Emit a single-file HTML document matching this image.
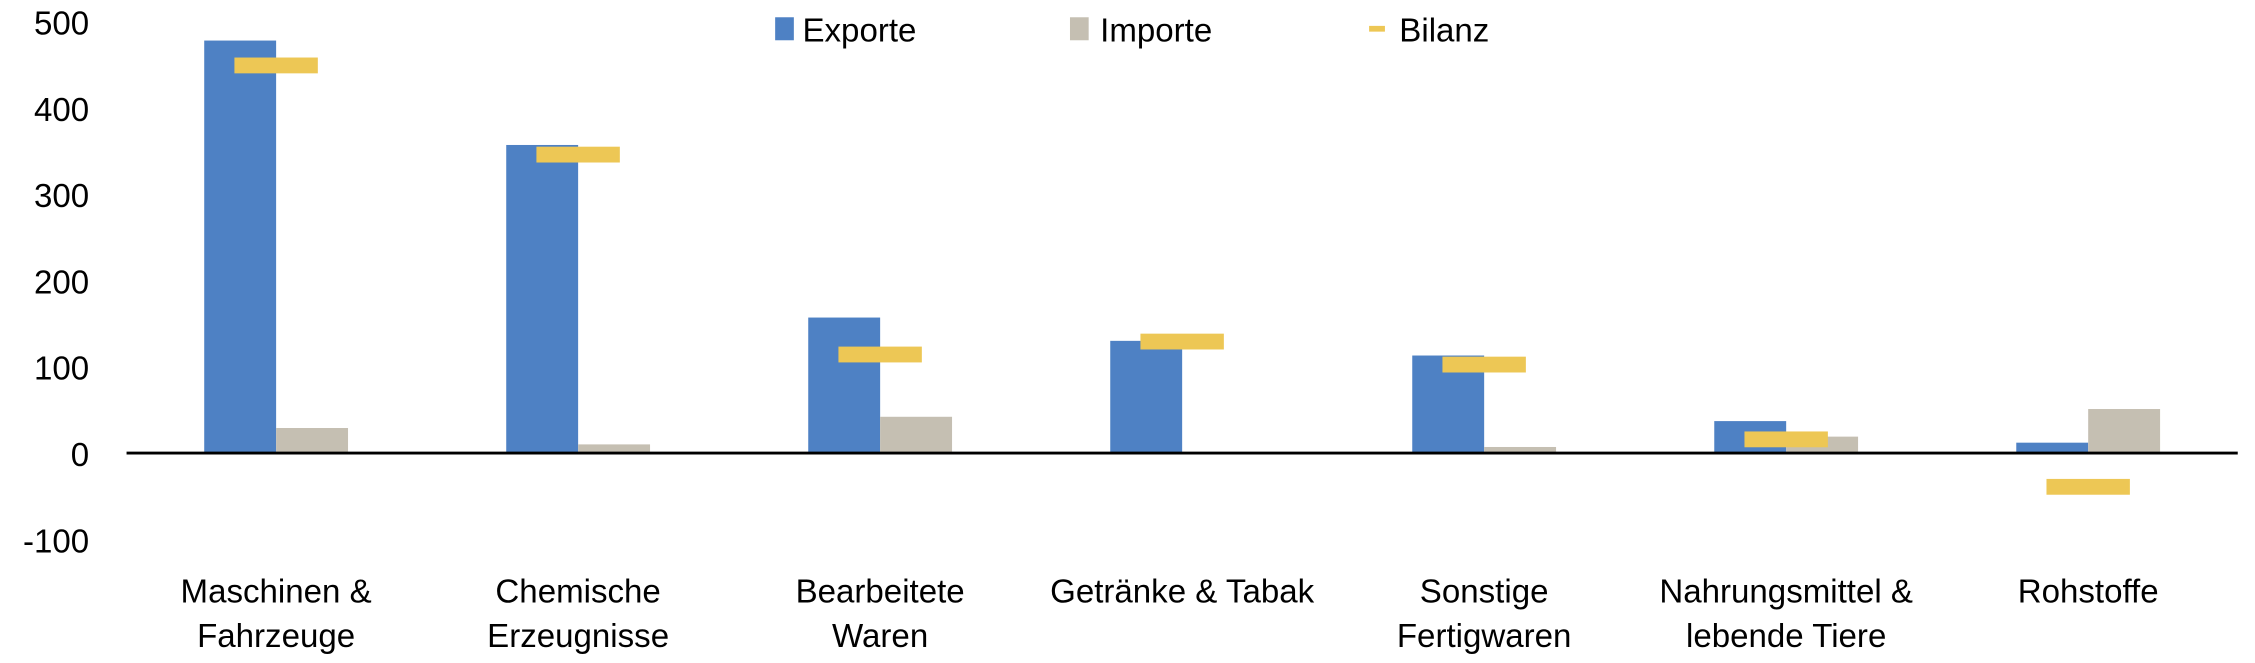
<!DOCTYPE html>
<html><head><meta charset="utf-8"><style>html,body{margin:0;padding:0;background:#fff;overflow:hidden}svg{display:block}</style></head>
<body>
<svg width="2255" height="663" viewBox="0 0 1568 461" preserveAspectRatio="none" xmlns="http://www.w3.org/2000/svg" font-family="Liberation Sans, DejaVu Sans, sans-serif" fill="#000">
<g font-size="23" text-anchor="end">
<text x="62" y="24">500</text>
<text x="62" y="84">400</text>
<text x="62" y="144">300</text>
<text x="62" y="204">200</text>
<text x="62" y="264">100</text>
<text x="62" y="324">0</text>
<text x="62" y="384">-100</text>
</g>
<g fill="#4e81c4">
<rect x="142" y="28.2" width="50" height="286.8"/>
<rect x="352" y="100.8" width="50" height="214.2"/>
<rect x="562" y="220.8" width="50" height="94.2"/>
<rect x="772" y="237" width="50" height="78"/>
<rect x="982" y="247.2" width="50" height="67.8"/>
<rect x="1192" y="292.8" width="50" height="22.2"/>
<rect x="1402" y="307.8" width="50" height="7.2"/>
</g>
<g fill="#c5bfb2">
<rect x="192" y="297.6" width="50" height="17.4"/>
<rect x="402" y="309" width="50" height="6"/>
<rect x="612" y="289.8" width="50" height="25.2"/>
<rect x="1032" y="310.8" width="50" height="4.2"/>
<rect x="1242" y="303.6" width="50" height="11.4"/>
<rect x="1452" y="284.4" width="50" height="30.6"/>
</g>
<line x1="88" y1="315" x2="1556" y2="315" stroke="#000" stroke-width="2"/>
<g fill="#edc755">
<rect x="163" y="40" width="58" height="11"/>
<rect x="373" y="102" width="58" height="11"/>
<rect x="583" y="241" width="58" height="11"/>
<rect x="793" y="232" width="58" height="11"/>
<rect x="1003" y="248" width="58" height="11"/>
<rect x="1213" y="300" width="58" height="11"/>
<rect x="1423" y="333" width="58" height="11"/>
</g>
<rect x="539" y="12" width="13" height="16" fill="#4e81c4"/>
<text x="558" y="29" font-size="23">Exporte</text>
<rect x="744" y="12" width="13" height="16" fill="#c5bfb2"/>
<text x="765" y="29" font-size="23">Importe</text>
<rect x="952" y="18" width="11" height="4" fill="#edc755"/>
<text x="973" y="29" font-size="23">Bilanz</text>
<g font-size="23" text-anchor="middle">
<text x="192" y="419">Maschinen &amp;</text><text x="192" y="450">Fahrzeuge</text>
<text x="402" y="419">Chemische</text><text x="402" y="450">Erzeugnisse</text>
<text x="612" y="419">Bearbeitete</text><text x="612" y="450">Waren</text>
<text x="822" y="419">Getränke &amp; Tabak</text>
<text x="1032" y="419">Sonstige</text><text x="1032" y="450">Fertigwaren</text>
<text x="1242" y="419">Nahrungsmittel &amp;</text><text x="1242" y="450">lebende Tiere</text>
<text x="1452" y="419">Rohstoffe</text>
</g>
</svg>
</body></html>
